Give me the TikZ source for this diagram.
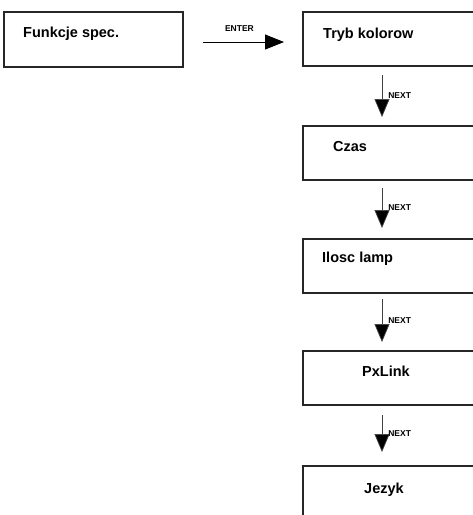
\documentclass[tikz,border=0pt]{standalone}
\usepackage{fontspec}
\setmainfont{Liberation Sans}
\usetikzlibrary{arrows.meta,calc}
\begin{document}
\begin{tikzpicture}[x=1pt,y=-1pt,
  menubox/.style={draw=black!85,line width=1.1pt,rectangle,inner sep=0pt,outer sep=0pt,
    minimum height=54pt,anchor=north west},
  boxtext/.style={font=\bfseries\fontsize{14.5}{16}\selectfont,anchor=base west,inner sep=0pt},
  arrlbl/.style={font=\bfseries\fontsize{8.5}{9}\selectfont,inner sep=1pt},
  nextarrow/.style={draw=black!75,line width=0.7pt,-{Triangle[width=15pt,length=18pt,fill=black]}},
  enterarrow/.style={draw=black,line width=0.8pt,-{Triangle[width=15pt,length=19pt,fill=black]}}]
\useasboundingbox (0,0) rectangle (473,515);
\fill[white] (0,0) rectangle (473,515);
\clip (0,0) rectangle (473,515);

\node[menubox,minimum width=179pt,minimum height=55pt] (b0) at (4,12) {};
\node[menubox,minimum width=190pt] (b1) at (303,12) {};
\node[menubox,minimum width=190pt] (b2) at (303,126) {};
\node[menubox,minimum width=190pt] (b3) at (303,239) {};
\node[menubox,minimum width=190pt] (b4) at (303,351) {};
\node[menubox,minimum width=190pt] (b5) at (303,466) {};

\node[boxtext] (t0) at ($(b0.north west)+(19,25.5)$) {Funkcje spec.};
\node[boxtext] (t1) at ($(b1.north west)+(20,26)$) {Tryb kolorow};
\node[boxtext] (t2) at ($(b2.north west)+(30,25.5)$) {Czas};
\node[boxtext] (t3) at ($(b3.north west)+(19,23.5)$) {Ilosc lamp};
\node[boxtext] (t4) at ($(b4.north west)+(59,25.5)$) {PxLink};
\node[boxtext] (t5) at ($(b5.north west)+(61,27)$) {Jezyk};

\draw[enterarrow] ($(b0.north east)+(20,30)$) -- node[arrlbl,pos=0.45,yshift=13pt] {ENTER} ($(b1.north west)+(-19,30)$);

\draw[nextarrow] ($(b1.south west)+(79,9)$) -- node[arrlbl,pos=0.5,anchor=west,xshift=5pt] {NEXT} ($(b2.north west)+(79,-9)$);
\draw[nextarrow] ($(b2.south west)+(79,8)$) -- node[arrlbl,pos=0.5,anchor=west,xshift=5pt] {NEXT} ($(b3.north west)+(79,-11)$);
\draw[nextarrow] ($(b3.south west)+(79,6)$) -- node[arrlbl,pos=0.5,anchor=west,xshift=5pt] {NEXT} ($(b4.north west)+(79,-9)$);
\draw[nextarrow] ($(b4.south west)+(79,10)$) -- node[arrlbl,pos=0.5,anchor=west,xshift=5pt] {NEXT} ($(b5.north west)+(79,-14)$);
\end{tikzpicture}
\end{document}
